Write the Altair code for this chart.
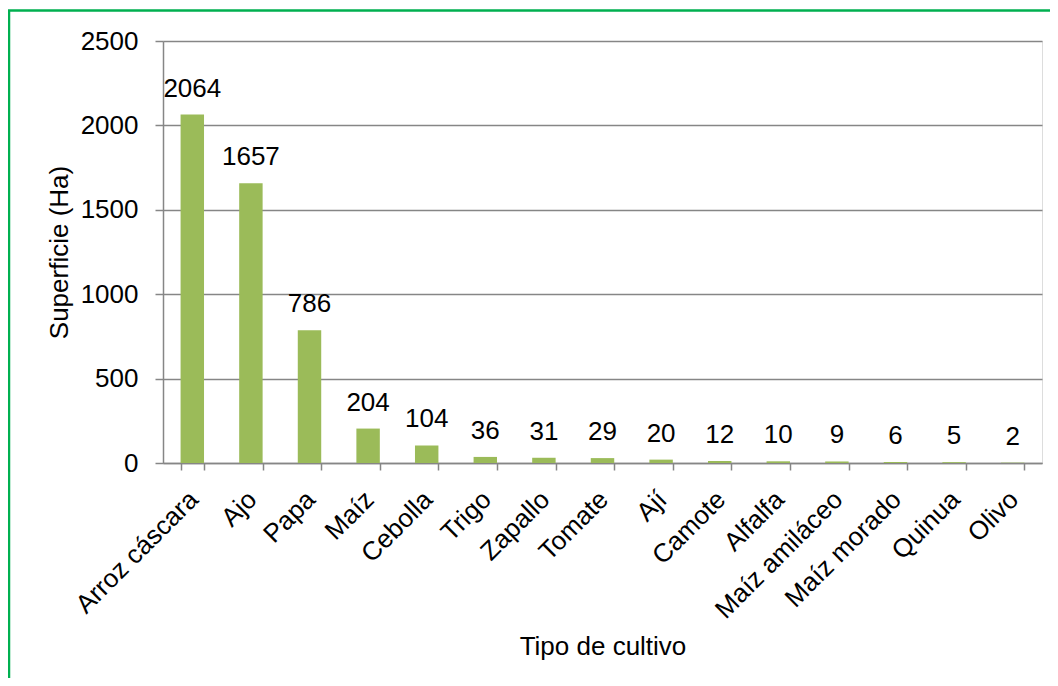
import altair as alt
import pandas as pd

cultivos = ["Arroz cáscara", "Ajo", "Papa", "Maíz", "Cebolla", "Trigo", "Zapallo",
            "Tomate", "Ají", "Camote", "Alfalfa", "Maíz amiláceo", "Maíz morado",
            "Quinua", "Olivo"]
superficie = [2064, 1657, 786, 204, 104, 36, 31, 29, 20, 12, 10, 9, 6, 5, 2]
y_ticks = [0, 500, 1000, 1500, 2000, 2500]

df = pd.DataFrame({"cultivo": cultivos, "superficie": superficie})

FONT = "Liberation Sans"
GRAY = "#868686"

x_enc = alt.X(
    "cultivo:N",
    sort=cultivos,
    scale=alt.Scale(paddingInner=0.6, paddingOuter=0.3),
    axis=alt.Axis(
        title="Tipo de cultivo",
        labelAngle=-45,
        labelAlign="right",
        labelBaseline="top",
        labelPadding=16,
        labelOffset=-8,
        labelFontSize=26,
        labelFont=FONT,
        labelColor="black",
        tickBand="extent",
        tickSize=7,
        tickColor=GRAY,
        tickWidth=1.5,
        domainColor=GRAY,
        domainWidth=1.5,
        titleFontSize=26,
        titleFont=FONT,
        titleFontWeight="normal",
        titleColor="black",
        titleY=191,
        titleBaseline="alphabetic",
        labelOverlap=False,
    ),
)
y_enc = alt.Y(
    "superficie:Q",
    scale=alt.Scale(domain=[0, 2500], nice=False),
    axis=alt.Axis(
        title="Superficie (Ha)",
        values=y_ticks,
        format="d",
        grid=True,
        gridColor=GRAY,
        gridWidth=1.5,
        domainColor=GRAY,
        domainWidth=1.5,
        tickColor=GRAY,
        tickSize=8,
        tickWidth=1.5,
        labelPadding=17,
        labelFontSize=26,
        labelFont=FONT,
        labelColor="black",
        titleFontSize=26,
        titleFont=FONT,
        titleFontWeight="normal",
        titleColor="black",
        titleX=-96,
        titleBaseline="alphabetic",
    ),
)

base = alt.Chart(df)
bars = base.mark_bar(color="#9BBB59").encode(x=x_enc, y=y_enc)
labels = base.mark_text(
    baseline="alphabetic", dy=-18, fontSize=26, font=FONT, color="black"
).encode(
    x=alt.X("cultivo:N", sort=cultivos),
    y=alt.Y("superficie:Q"),
    text=alt.Text("superficie:Q", format="d"),
)

frame = alt.Chart(pd.DataFrame({"k": [0]})).mark_rect(
    fill=None, stroke="#00B050", strokeWidth=2.5, clip=False
).encode(
    x=alt.value(-154),
    x2=alt.value(1200),
    y=alt.value(-30.5),
    y2=alt.value(900),
)

chart = alt.layer(bars, labels, frame).properties(
    width=879,
    height=422,
    autosize=alt.AutoSizeParams(type="none"),
    padding={"left": 155, "top": 33, "right": 8, "bottom": 215},
).configure_view(stroke=None).configure(background="white")

chart.save("out.html", embed_options={"renderer": "svg", "actions": False})
